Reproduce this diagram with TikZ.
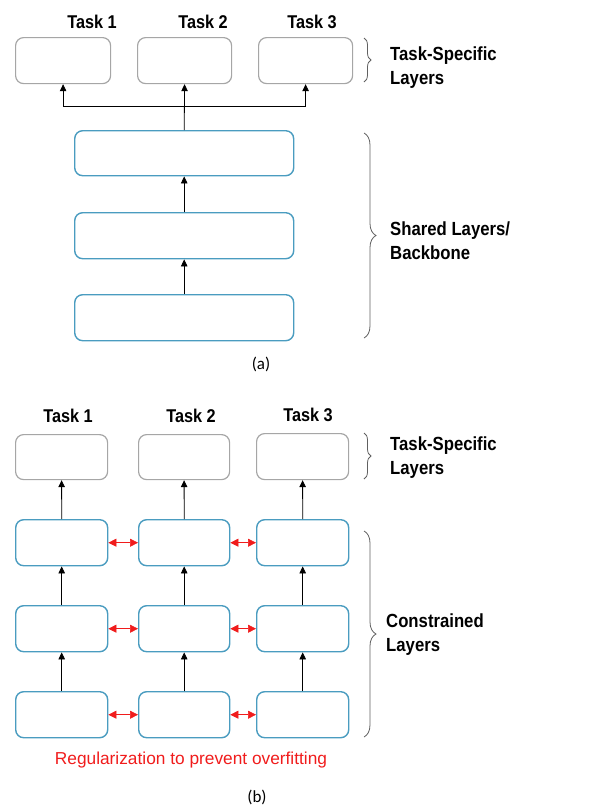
\documentclass[tikz,border=0pt]{standalone}
\usepackage{fontspec}
\setmainfont{Liberation Sans}
\newfontfamily\labelfont[FakeStretch=0.88]{Liberation Sans Bold}
\newfontfamily\capfont{Carlito}
\usetikzlibrary{arrows.meta,decorations.pathreplacing}
\definecolor{layerblue}{HTML}{4A9CC0}
\definecolor{headgray}{HTML}{A6A6A6}
\definecolor{bracegray}{HTML}{606060}
\definecolor{regred}{HTML}{F01C1C}
\tikzset{
  headbox/.style={draw=headgray, line width=1.2pt, rounded corners=8pt, fill=white},
  layerbox/.style={draw=layerblue, line width=1.4pt, rounded corners=8pt, fill=white},
  tasklabel/.style={font=\labelfont\fontsize{18.5}{20}\selectfont, inner sep=0pt},
  sidelabel/.style={font=\labelfont\fontsize{19}{24}\selectfont, align=left, anchor=west, inner sep=0pt},
  caption/.style={font=\capfont\fontsize{17}{18}\selectfont, inner sep=0pt},
  flow/.style={line width=0.8pt, -{Triangle[length=7pt,width=6.5pt]}},
  reg/.style={regred, line width=0.6pt, {Triangle[length=8pt,width=8pt]}-{Triangle[length=8pt,width=8pt]}},
  grp/.style={bracegray, line width=0.8pt, decorate, decoration={brace, amplitude=#1}},
}
\newcommand{\boxat}[6]{% style, name, x1, y1, x2, y2
  \node[#1, minimum width=#5pt-#3pt, minimum height=#6pt-#4pt, inner sep=0pt, anchor=north west] (#2) at (#3,#4) {};}
\begin{document}
\begin{tikzpicture}[x=1pt,y=-1pt]
\useasboundingbox (0,0) rectangle (599,807);

% ---------- (a) hard parameter sharing ----------
\boxat{headbox}{ha1}{15}{37}{110}{83}
\boxat{headbox}{ha2}{137}{37}{231}{83}
\boxat{headbox}{ha3}{258}{37}{352}{83}
\node[tasklabel] (ta1) at (92,22) {Task 1};
\node[tasklabel] (ta2) at (203,22) {Task 2};
\node[tasklabel] (ta3) at (312,22) {Task 3};

\boxat{layerbox}{sa1}{74}{130}{293}{175}
\boxat{layerbox}{sa2}{74}{212}{293}{258}
\boxat{layerbox}{sa3}{74}{294}{293}{340}

\coordinate (split) at (183.5,106);
\draw[flow] (sa3.north) -- (sa2.south);
\draw[flow] (sa2.north) -- (sa1.south);
\draw[flow] (sa1.north) -- (ha2.south);
\draw[flow] (split) -| (ha1.south);
\draw[flow] (split) -| (ha3.south);

\coordinate (bta) at (364,38);  \coordinate (btb) at (364,82);
\draw[grp=7pt] (bta) -- (btb);
\node[sidelabel] (lta) at (390,68) {Task-Specific\\Layers};

\coordinate (bsa) at (364,133); \coordinate (bsb) at (364,338);
\draw[grp=12pt] (bsa) -- (bsb);
\node[sidelabel] (lsa) at (390,241) {Shared Layers/\\Backbone};

\node[caption] (capa) at (261,364) {(a)};

% ---------- (b) soft parameter sharing ----------
\node[tasklabel] (tb1) at (68,416) {Task 1};
\node[tasklabel] (tb2) at (191,416) {Task 2};
\node[tasklabel] (tb3) at (308,415) {Task 3};

\boxat{headbox}{hb1}{15}{434}{107}{479}
\boxat{headbox}{hb2}{138}{434}{229}{479}
\boxat{headbox}{hb3}{256}{433}{348}{479}

\foreach \r/\ya/\yb in {1/519/565, 2/605/651, 3/691/737}{
  \boxat{layerbox}{c\r1}{15}{\ya}{107}{\yb}
  \boxat{layerbox}{c\r2}{138}{\ya}{229}{\yb}
  \boxat{layerbox}{c\r3}{256}{\ya}{348}{\yb}
}

\foreach \c in {1,2,3}{
  \draw[flow] (c3\c.north) -- (c2\c.south);
  \draw[flow] (c2\c.north) -- (c1\c.south);
  \draw[flow] (c1\c.north) -- (hb\c.south);
}

\foreach \r in {1,2,3}{
  \draw[reg] (c\r1.east) -- (c\r2.west);
  \draw[reg] (c\r2.east) -- (c\r3.west);
}

\coordinate (bba) at (364,433); \coordinate (bbb) at (364,479);
\draw[grp=7pt] (bba) -- (bbb);
\node[sidelabel] (ltb) at (390,458) {Task-Specific\\Layers};

\coordinate (bca) at (364,531); \coordinate (bcb) at (364,737);
\draw[grp=12pt] (bca) -- (bcb);
\node[sidelabel] (lcb) at (386,635) {Constrained\\Layers};

\node[font=\fontsize{17.3}{19}\selectfont, text=regred, inner sep=0pt] (regtxt) at (191,760) {Regularization to prevent overfitting};
\node[caption] (capb) at (257,797) {(b)};
\end{tikzpicture}
\end{document}
